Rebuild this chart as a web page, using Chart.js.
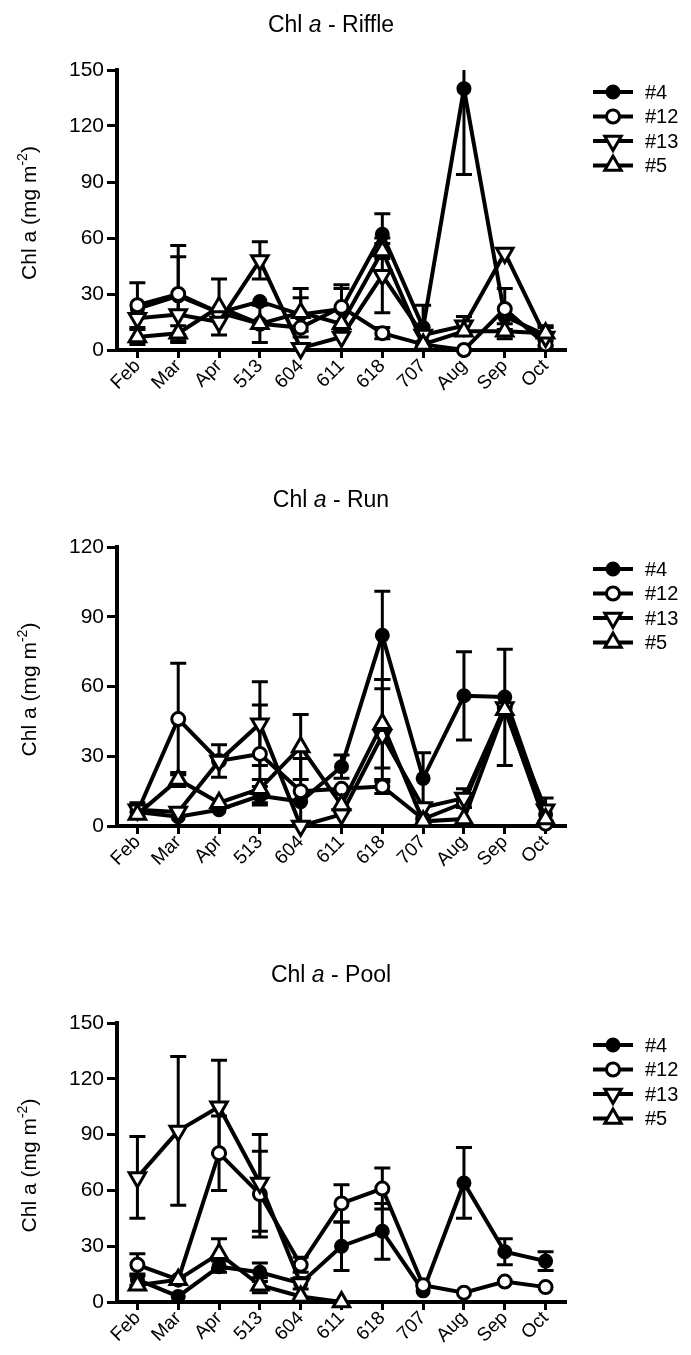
<!DOCTYPE html>
<html>
<head>
<title>Chl a - Riffle / Run / Pool</title>
<style>
  body { margin: 0; background: #fff; }
  #wrap { position: relative; width: 691px; height: 1355px; }
  canvas { position: absolute; left: 0; }
</style>
</head>
<body>
<script src="https://cdn.jsdelivr.net/npm/chart.js@4.4.1/dist/chart.umd.min.js"></script>

<div id="wrap">
  <canvas id="riffle" width="691" height="475" style="top:0px"></canvas>
  <canvas id="run" width="691" height="475" style="top:475px"></canvas>
  <canvas id="pool" width="691" height="405" style="top:950px"></canvas>
</div>

<script>
// sampling dates
const months = ['Feb', 'Mar', 'Apr', '513', '604', '611', '618', '707', 'Aug', 'Sep', 'Oct'];
const sites = ['#4', '#12', '#13', '#5'];

// Riffle (mean, error)
const riffle4    = [22, 29, 20, 26, 19, 22, 62, 12, 140, 18, 8];
const riffle4Err = [0, 21, 0, 0, 9, 11, 11, 12, 46, 0, 0];
const riffle12    = [24, 30, 20, 14, 12, 23, 9, 3, 0, 22, 3];
const riffle12Err = [12, 26, 0, 0, 0, 12, 3, 0, 0, 11, 0];
const riffle13    = [17, 19, 15, 48, 1, 7, 40, 8, 13, 52, 7];
const riffle13Err = [0, 0, 0, 10, 0, 0, 20, 0, 5, 0, 5];
const riffle5    = [7, 9, 23, 14, 20, 14, 53, 3, 10, 10, 9];
const riffle5Err = [4, 4, 15, 10, 13, 0, 4, 0, 0, 4, 4];

// Run
const run4    = [6, 4, 7, 13, 10.5, 25.5, 82, 20.5, 56, 55.5, 5];
const run4Err = [0, 0, 0, 4, 0, 5, 19, 11, 19, 0, 0];
const run12    = [6, 46, 28, 31, 15, 16, 17, 3, 10, 51, 1];
const run12Err = [0, 24, 0, 21, 14, 0, 3, 0, 0, 0, 0];
const run13    = [7, 6, 28, 44, 0, 5, 39, 8, 12, 51, 7];
const run13Err = [3, 0, 7, 18, 0, 0, 20, 0, 4, 25, 5];
const run5    = [5, 20, 10, 16, 34, 9, 44, 2, 3, 50, 3];
const run5Err = [0, 3, 0, 4, 14, 0, 19, 0, 0, 0, 0];

// Pool
const pool4    = [12, 3, 19, 16, 10, 30, 38, 6, 64, 27, 22];
const pool4Err = [3, 0, 3, 5, 3, 13, 15, 0, 19, 7, 5];
const pool12    = [20, 12, 80, 58, 20, 53, 61, 9, 5, 11, 8];
const pool12Err = [6, 0, 20, 23, 4, 10, 11, 0, 0, 0, 0];
const pool13    = [67, 92, 105, 64, 10, null, null, null, null, null, null];
const pool13Err = [22, 40, 25, 26, 0, 0, 0, 0, 0, 0, 0];
const pool5    = [9, 12, 26, 9, 3, 0, null, null, null, null, null];
const pool5Err = [0, 0, 8, 4, 0, 0, 0, 0, 0, 0, 0];

const FONT = "'Liberation Sans', Arial, sans-serif";
Chart.defaults.font.family = FONT;
Chart.defaults.color = '#000';

// marker look per site
const markers = [
  { pointStyle: 'circle', fill: '#000', radius: 6, rotation: 0 },
  { pointStyle: 'circle', fill: '#fff', radius: 6.5, rotation: 0 },
  { pointStyle: 'triangle', fill: '#fff', radius: 9.5, rotation: 180 },
  { pointStyle: 'triangle', fill: '#fff', radius: 9.5, rotation: 0 }
];

// draws text made of pieces with different fonts, centred on x
function drawRich(ctx, parts, x, y) {
  let w = 0;
  parts.forEach(p => { ctx.font = p.font; w += ctx.measureText(p.text).width; });
  let cx = x - w / 2;
  parts.forEach(p => {
    ctx.font = p.font;
    ctx.fillText(p.text, cx, y + (p.dy || 0));
    cx += ctx.measureText(p.text).width;
  });
}

const errorBars = {
  id: 'errorBars',
  beforeDatasetsDraw(chart) {
    const { ctx, chartArea, scales } = chart;
    ctx.save();
    ctx.beginPath();
    ctx.rect(chartArea.left - 30, chartArea.top, chartArea.width + 60, chartArea.height);
    ctx.clip();
    ctx.strokeStyle = '#000';
    ctx.lineWidth = 3;
    chart.data.datasets.forEach((ds, di) => {
      const meta = chart.getDatasetMeta(di);
      ds.errors.forEach((e, i) => {
        const v = ds.data[i];
        if (v == null || !e) return;
        const x = meta.data[i].x;
        const y1 = scales.y.getPixelForValue(v + e);
        const y2 = scales.y.getPixelForValue(v - e);
        ctx.beginPath();
        ctx.moveTo(x, y1); ctx.lineTo(x, y2);
        ctx.moveTo(x - 8, y1); ctx.lineTo(x + 8, y1);
        ctx.moveTo(x - 8, y2); ctx.lineTo(x + 8, y2);
        ctx.stroke();
      });
    });
    ctx.restore();
  }
};

const decorations = {
  id: 'decorations',
  afterDraw(chart) {
    const { ctx, chartArea } = chart;
    const name = chart.options.plugins.decorations.name;
    ctx.save();
    ctx.fillStyle = '#000';
    ctx.textBaseline = 'middle';
    ctx.textAlign = 'left';
    // title
    drawRich(ctx, [
      { text: 'Chl ', font: '23px ' + FONT },
      { text: 'a', font: 'italic 23px ' + FONT },
      { text: ' - ' + name, font: '23px ' + FONT }
    ], 331, 26);
    // y axis title
    ctx.save();
    ctx.translate(30, (chartArea.top + chartArea.bottom) / 2 + 3);
    ctx.rotate(-Math.PI / 2);
    drawRich(ctx, [
      { text: 'Chl a (mg m', font: '21px ' + FONT },
      { text: '-2', font: '14px ' + FONT, dy: -7 },
      { text: ')', font: '21px ' + FONT }
    ], 0, 0);
    ctx.restore();
    // legend
    chart.data.datasets.forEach((ds, i) => {
      const y = chartArea.top + 22 + i * 24.5;
      const m = markers[i];
      ctx.strokeStyle = '#000';
      ctx.lineWidth = 4;
      ctx.beginPath();
      ctx.moveTo(593, y); ctx.lineTo(633, y);
      ctx.stroke();
      ctx.fillStyle = m.fill;
      ctx.lineWidth = 3;
      Chart.helpers.drawPoint(ctx, { pointStyle: m.pointStyle, radius: m.radius, rotation: m.rotation, borderWidth: 3 }, 613, y);
      ctx.fillStyle = '#000';
      ctx.font = '20px ' + FONT;
      ctx.fillText(ds.label, 645, y + 1);
    });
    ctx.restore();
  }
};

function makeChart(id, name, yMax, values, errors, top, bottom, height) {
  const datasets = values.map((vals, i) => ({
    label: sites[i],
    data: vals,
    errors: errors[i],
    order: 4 - i,
    borderColor: '#000',
    borderWidth: 4,
    pointStyle: markers[i].pointStyle,
    pointRotation: markers[i].rotation,
    pointRadius: markers[i].radius,
    pointBackgroundColor: markers[i].fill,
    pointBorderColor: '#000',
    pointBorderWidth: 3,
    spanGaps: false,
    clip: false,
    tension: 0
  }));

  const gridFor = len => ({
    display: true,
    drawOnChartArea: false,
    drawTicks: true,
    tickLength: len,
    tickWidth: 3,
    tickColor: '#000'
  });

  return new Chart(document.getElementById(id), {
    type: 'line',
    data: { labels: months, datasets: datasets },
    options: {
      responsive: false,
      animation: false,
      layout: { padding: { top: top, right: 125, left: 0, bottom: 0 } },
      plugins: {
        legend: { display: false },
        title: { display: false },
        tooltip: { enabled: false },
        decorations: { name: name }
      },
      scales: {
        x: {
          type: 'category',
          offset: true,
          grid: gridFor(8),
          border: { display: true, width: 4, color: '#000' },
          ticks: { minRotation: 45, maxRotation: 45, padding: -3, font: { size: 19 }, color: '#000' },
          afterFit: s => { s.height = height - bottom; }
        },
        y: {
          min: 0,
          max: yMax,
          grid: gridFor(10),
          border: { display: true, width: 4, color: '#000' },
          ticks: { stepSize: 30, padding: 3, font: { size: 21 }, color: '#000' },
          afterFit: s => { s.width = 117; }
        }
      }
    },
    plugins: [errorBars, decorations]
  });
}

makeChart('riffle', 'Riffle', 150,
  [riffle4, riffle12, riffle13, riffle5],
  [riffle4Err, riffle12Err, riffle13Err, riffle5Err], 70, 350, 475);

makeChart('run', 'Run', 120,
  [run4, run12, run13, run5],
  [run4Err, run12Err, run13Err, run5Err], 72, 351, 475);

makeChart('pool', 'Pool', 150,
  [pool4, pool12, pool13, pool5],
  [pool4Err, pool12Err, pool13Err, pool5Err], 73, 352, 405);
</script>
</body>
</html>
